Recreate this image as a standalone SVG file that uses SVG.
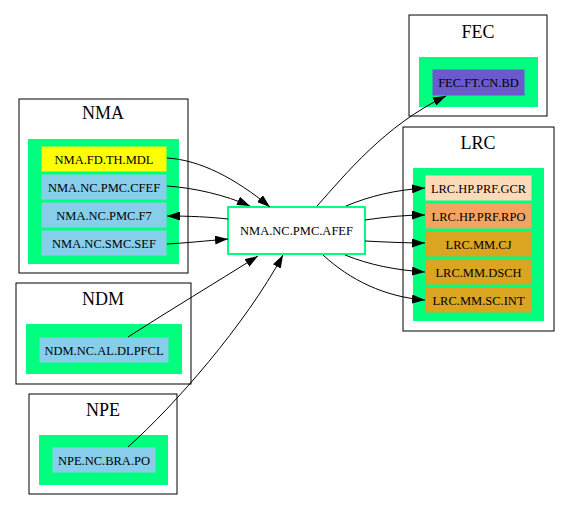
<svg xmlns="http://www.w3.org/2000/svg" width="569" height="511" viewBox="0 0 569 511">
<defs>
<marker id="ah" markerWidth="13" markerHeight="9" refX="13" refY="4.5" orient="auto" markerUnits="userSpaceOnUse"><path d="M0,0 L13,4.5 L0,9 z" fill="#000"/></marker>
</defs>
<style>
.cl{fill:#fff;stroke:#000;stroke-width:1}
.gr{fill:#00ff7f;stroke:#00ff7f}
.n{stroke:#00ff7f;stroke-width:1}
text{font-family:'Liberation Serif','DejaVu Serif','Times New Roman',serif;text-anchor:middle;fill:#000}
.t{font-size:12.5px}
.h{font-size:18px}
.e{fill:none;stroke:#000;stroke-width:1;marker-end:url(#ah)}
</style>
<rect width="569" height="511" fill="#fff"/>
<g id="cluster_NMA">
<rect class="cl" x="19" y="99" width="169" height="174"/>
<text class="h" x="103" y="119">NMA</text>
<rect class="gr" x="28.5" y="139.5" width="150" height="124"/>
</g>
<g id="cluster_NDM">
<rect class="cl" x="16" y="283" width="175" height="101"/>
<text class="h" x="103" y="305">NDM</text>
<rect class="gr" x="26.5" y="324.5" width="155" height="49"/>
</g>
<g id="cluster_NPE">
<rect class="cl" x="29" y="394" width="148" height="100"/>
<text class="h" x="103" y="416">NPE</text>
<rect class="gr" x="39.5" y="435.5" width="128" height="49"/>
</g>
<g id="cluster_FEC">
<rect class="cl" x="409" y="15" width="138" height="101"/>
<text class="h" x="478" y="38">FEC</text>
<rect class="gr" x="419.5" y="57.5" width="118" height="49"/>
</g>
<g id="cluster_LRC">
<rect class="cl" x="403" y="127" width="151" height="204"/>
<text class="h" x="478" y="149">LRC</text>
<rect class="gr" x="413.5" y="168.5" width="130" height="152"/>
</g>
<g id="node_NMA_FD_TH_MDL"><rect class="n" x="41" y="146" width="126" height="26" fill="#ffff00"/><text class="t" x="104" y="163.5">NMA.FD.TH.MDL</text></g>
<g id="node_NMA_NC_PMC_CFEF"><rect class="n" x="41" y="174" width="126" height="26" fill="#87ceeb"/><text class="t" x="104" y="191.5">NMA.NC.PMC.CFEF</text></g>
<g id="node_NMA_NC_PMC_F7"><rect class="n" x="41" y="202" width="126" height="26" fill="#87ceeb"/><text class="t" x="104" y="219.5">NMA.NC.PMC.F7</text></g>
<g id="node_NMA_NC_SMC_SEF"><rect class="n" x="41" y="230" width="126" height="26" fill="#87ceeb"/><text class="t" x="104" y="247.5">NMA.NC.SMC.SEF</text></g>
<g id="node_NDM_NC_AL_DLPFCL"><rect class="n" x="39" y="337" width="130" height="26" fill="#87ceeb"/><text class="t" x="104" y="354.5">NDM.NC.AL.DLPFCL</text></g>
<g id="node_NPE_NC_BRA_PO"><rect class="n" x="52" y="447" width="104" height="26" fill="#87ceeb"/><text class="t" x="104" y="464.5">NPE.NC.BRA.PO</text></g>
<g id="node_FEC_FT_CN_BD"><rect class="n" x="432" y="69" width="93" height="27" fill="#6a5acd"/><text class="t" x="478.5" y="87">FEC.FT.CN.BD</text></g>
<g id="node_LRC_HP_PRF_GCR"><rect class="n" x="425" y="175" width="107" height="26" fill="#ffdab9"/><text class="t" x="478.5" y="192.5">LRC.HP.PRF.GCR</text></g>
<g id="node_LRC_HP_PRF_RPO"><rect class="n" x="425" y="203" width="107" height="26" fill="#f4a460"/><text class="t" x="478.5" y="220.5">LRC.HP.PRF.RPO</text></g>
<g id="node_LRC_MM_CJ"><rect class="n" x="425" y="231" width="107" height="26" fill="#daa520"/><text class="t" x="478.5" y="248.5">LRC.MM.CJ</text></g>
<g id="node_LRC_MM_DSCH"><rect class="n" x="425" y="259" width="107" height="26" fill="#daa520"/><text class="t" x="478.5" y="276.5">LRC.MM.DSCH</text></g>
<g id="node_LRC_MM_SC_INT"><rect class="n" x="425" y="287" width="107" height="26" fill="#daa520"/><text class="t" x="478.5" y="304.5">LRC.MM.SC.INT</text></g>
<g id="node_NMA_NC_PMC_AFEF"><rect x="228" y="207" width="137" height="47" fill="#fff" stroke="#00ff7f" stroke-width="2"/><text class="t" x="296.5" y="234.5">NMA.NC.PMC.AFEF</text></g>
<g id="edges">
<path class="e" d="M167,158 C200,160 235,178 270,207"/>
<path class="e" d="M167,186 C195,188 225,195 250,206"/>
<path class="e" d="M228,219 C210,217 190,216 167,216"/>
<path class="e" d="M167,244 C185,243 205,241 228,239"/>
<path class="e" d="M128,337 C170,310 215,283 258,256"/>
<path class="e" d="M128,447 C175,405 245,325 283,255"/>
<path class="e" d="M317,206 C345,175 385,125 446,96"/>
<path class="e" d="M346,206 C370,196 395,190 425,188"/>
<path class="e" d="M365,220 C385,217 405,215 425,215"/>
<path class="e" d="M365,241 C385,242 405,243 425,243"/>
<path class="e" d="M345,255 C370,265 395,270 425,272"/>
<path class="e" d="M323,255 C350,280 385,297 425,300"/>
</g>
</svg>
